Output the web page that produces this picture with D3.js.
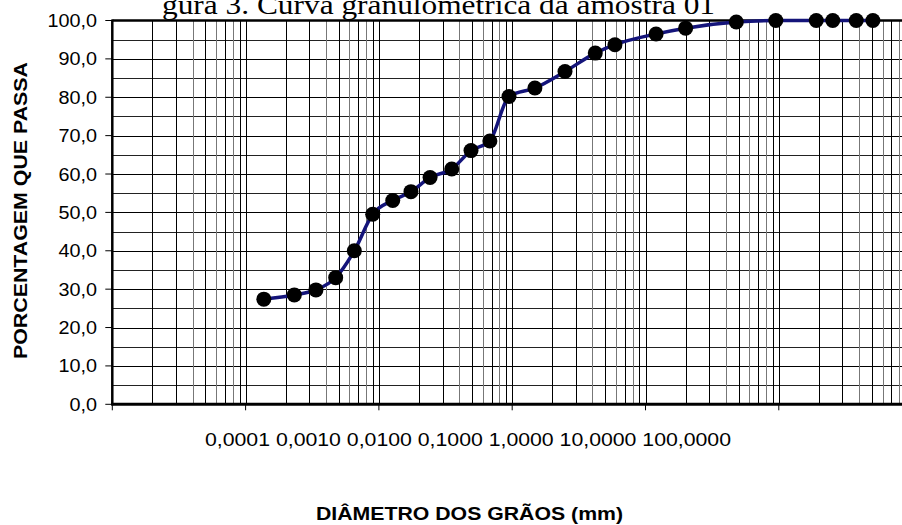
<!DOCTYPE html>
<html><head><meta charset="utf-8">
<script src="https://cdn.jsdelivr.net/npm/d3@7"></script>
<style>
html,body{margin:0;padding:0;background:#fff;overflow:hidden}
svg{display:block}
</style></head>
<body>
<svg id="chart" width="902" height="525"></svg>
<script>
// ---- data ----
const diameters = [0.00137, 0.00232, 0.00337, 0.00474, 0.00654, 0.00898, 0.0127, 0.0174, 0.0242, 0.0352, 0.0491, 0.068, 0.0946, 0.148, 0.249, 0.42, 0.59, 1.2, 2.0, 4.8, 9.5, 19.1, 25.4, 38.1, 50.8];
const percentPassing = [27.4, 28.5, 29.8, 33.0, 40.0, 49.5, 53.1, 55.4, 59.1, 61.3, 66.1, 68.6, 80.2, 82.4, 86.7, 91.5, 93.7, 96.5, 98.0, 99.6, 100, 100, 100, 100, 100];
const xTickLabels = ["0,0001", "0,0010", "0,0100", "0,1000", "1,0000", "10,0000", "100,0000"];
const yTicks = [0, 10, 20, 30, 40, 50, 60, 70, 80, 90, 100];
const titleText = "gura 3. Curva granulométrica da amostra 01";
const yTitle = "PORCENTAGEM QUE PASSA";
const xTitle = "DIÂMETRO DOS GRÃOS (mm)";

// ---- layout ----
const svg = d3.select("#chart");
const pL = 112.3, pT = 20.5, pB = 404.3, decade = 133.3;
const x = d3.scaleLog().domain([1e-4, 100]).range([pL, pL + 6 * decade]);
const y = d3.scaleLinear().domain([0, 100]).range([pB, pT]);
const pR = x.range()[1];

function fitWidth(sel, w) {
  sel.each(function(){ this.setAttribute("textLength", w); this.setAttribute("lengthAdjust", "spacingAndGlyphs"); });
}

// title (cut off at top)
const t = svg.append("text").attr("x", 162).attr("y", 14)
  .attr("font-family", "'Liberation Serif', 'Times New Roman', serif")
  .attr("font-size", 28).attr("fill", "#000").text(titleText);
fitWidth(t, 553);

// grid: horizontal every 5
const g = svg.append("g");
g.selectAll("line.h").data(d3.range(5, 100, 5)).join("line")
  .attr("x1", pL).attr("x2", pR)
  .attr("y1", d => Math.round(y(d)) + 0.5).attr("y2", d => Math.round(y(d)) + 0.5)
  .attr("stroke", d => d % 10 === 0 ? "#000" : "#222").attr("stroke-width", 1);

// grid: vertical log lines
const vLines = [];
for (let e = -4; e < 2; e++) for (let m = 1; m <= 9; m++) vLines.push({v: m * Math.pow(10, e), m});
vLines.push({v: 100, m: 1});
g.selectAll("line.v").data(vLines).join("line")
  .attr("x1", d => Math.round(x(d.v)) + 0.5).attr("x2", d => Math.round(x(d.v)) + 0.5)
  .attr("y1", pT).attr("y2", pB)
  .attr("stroke", d => (d.m === 4 || d.m === 6 || d.m === 8) ? "#777" : "#000")
  .attr("stroke-width", 1);

// frame
svg.append("line").attr("x1", pL).attr("x2", pR).attr("y1", pT).attr("y2", pT)
  .attr("stroke", "#000").attr("stroke-width", 2.5);
svg.append("line").attr("x1", pL).attr("x2", pL).attr("y1", pT - 1).attr("y2", pB + 1)
  .attr("stroke", "#000").attr("stroke-width", 2.5);
svg.append("line").attr("x1", pL - 1).attr("x2", pR).attr("y1", pB).attr("y2", pB)
  .attr("stroke", "#000").attr("stroke-width", 3);

// y axis ticks + labels
svg.selectAll("line.yt").data(yTicks).join("line")
  .attr("x1", pL - 7).attr("x2", pL).attr("y1", d => y(d)).attr("y2", d => y(d))
  .attr("stroke", "#000").attr("stroke-width", 1);
svg.selectAll("text.yl").data(yTicks).join("text")
  .attr("x", 97).attr("y", d => y(d) + 6.5).attr("text-anchor", "end")
  .attr("font-family", "'Liberation Sans', Arial, sans-serif").attr("font-size", 18)
  .attr("fill", "#000").text(d => d3.format(".1f")(d).replace(".", ","))
  .each(function(){ const w = this.getComputedTextLength(); this.setAttribute("textLength", w * 1.1); this.setAttribute("lengthAdjust", "spacingAndGlyphs"); });

// x axis decade ticks
const decTicks = d3.range(-4, 3).map(e => Math.pow(10, e));
svg.selectAll("line.xt").data(decTicks).join("line")
  .attr("x1", d => x(d)).attr("x2", d => x(d)).attr("y1", pB).attr("y2", pB + 6)
  .attr("stroke", "#000").attr("stroke-width", 1);

// x tick labels (squeezed into one line)
const xl = svg.append("text").attr("x", 205).attr("y", 446)
  .attr("font-family", "'Liberation Sans', Arial, sans-serif").attr("font-size", 19)
  .attr("fill", "#000").text(xTickLabels.join(" "));
fitWidth(xl, 526);

// axis titles
const xt = svg.append("text").attr("x", 316).attr("y", 520)
  .attr("font-family", "'Liberation Sans', Arial, sans-serif").attr("font-size", 19)
  .attr("font-weight", "bold").attr("fill", "#000").text(xTitle);
fitWidth(xt, 307);
const yt = svg.append("text").attr("transform", "translate(27,359) rotate(-90)")
  .attr("font-family", "'Liberation Sans', Arial, sans-serif").attr("font-size", 19)
  .attr("font-weight", "bold").attr("fill", "#000").text(yTitle);
fitWidth(yt, 297);

// curve
const pts = diameters.map((d, i) => [d, percentPassing[i]]);
const line = d3.line().x(d => x(d[0])).y(d => y(d[1])).curve(d3.curveMonotoneX);
svg.append("path").attr("d", line(pts)).attr("fill", "none")
  .attr("stroke", "#14147a").attr("stroke-width", 3.5);
svg.selectAll("circle.pt").data(pts).join("circle")
  .attr("cx", d => x(d[0])).attr("cy", d => y(d[1])).attr("r", 7.5).attr("fill", "#000");
</script>
</body></html>
